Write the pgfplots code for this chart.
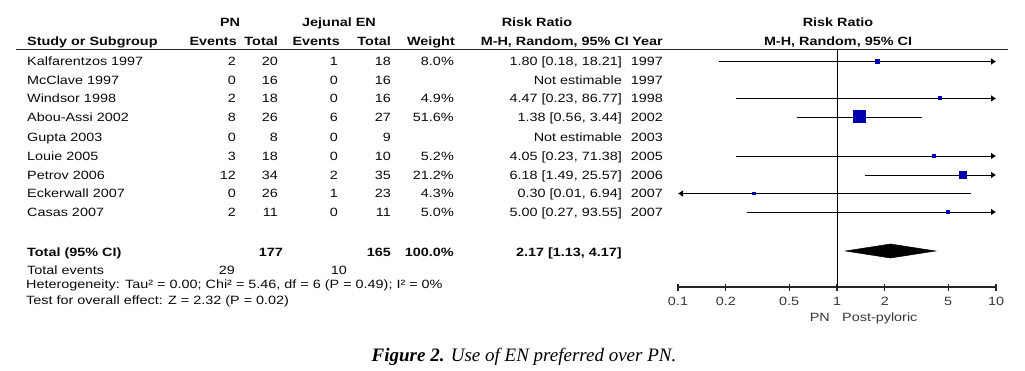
\documentclass[border=0pt]{standalone}
\usepackage{pgfplots}
\pgfplotsset{compat=1.18}
\usepackage{fontspec}
\setmainfont{Liberation Sans}[FakeStretch=1.2]
\newfontfamily\capfont{Liberation Serif}
\usetikzlibrary{arrows.meta}
\definecolor{sq}{RGB}{0,0,170}
\definecolor{txt}{RGB}{10,10,10}
\definecolor{tickgray}{RGB}{55,55,55}
\newcommand\fs{\fontsize{12}{14}\selectfont}
\newcommand\TE[3]{\node[anchor=base east,inner sep=0pt,yshift=-4.3pt,text=txt] at (#1pt,-#2pt) {#3};}
\newcommand\TW[3]{\node[anchor=base west,inner sep=0pt,yshift=-4.3pt,text=txt] at (#1pt,-#2pt) {#3};}
\newcommand\TC[3]{\node[anchor=base,inner sep=0pt,yshift=-4.3pt,text=txt] at (#1pt,-#2pt) {#3};}
\newcommand\row[9]{\TW{27}{#1}{#2}\TE{236}{#1}{#3}\TE{278}{#1}{#4}\TE{338}{#1}{#5}\TE{391}{#1}{#6}\TE{454}{#1}{#7}\TE{622}{#1}{#8}\TE{663}{#1}{#9}}
\begin{document}
\fs
\begin{tikzpicture}[font=\fs]
\useasboundingbox (0,0) rectangle (1025pt,-371pt);
% headers
\TC{230}{22}{\bfseries PN}
\TC{339}{22}{\bfseries Jejunal EN}
\TC{537}{22}{\bfseries Risk Ratio}
\TC{838}{22}{\bfseries Risk Ratio}
\TW{27}{41.5}{\bfseries Study or Subgroup}
\TE{237}{41.5}{\bfseries Events}
\TE{278}{41.5}{\bfseries Total}
\TE{340}{41.5}{\bfseries Events}
\TE{391}{41.5}{\bfseries Total}
\TE{455}{41.5}{\bfseries Weight}
\TE{629}{41.5}{\bfseries M-H, Random, 95\% CI}
\TE{663}{41.5}{\bfseries Year}
\TC{838}{41.5}{\bfseries M-H, Random, 95\% CI}
\draw[line width=1.3pt, black!85] (16pt,-49.5pt) -- (1008pt,-49.5pt);
% rows
\row{61.5}{Kalfarentzos 1997}{2}{20}{1}{18}{8.0\%}{1.80 [0.18, 18.21]}{1997}
\row{80}{McClave 1997}{0}{16}{0}{16}{}{Not estimable}{1997}
\row{98.5}{Windsor 1998}{2}{18}{0}{16}{4.9\%}{4.47 [0.23, 86.77]}{1998}
\row{117}{Abou-Assi 2002}{8}{26}{6}{27}{51.6\%}{1.38 [0.56, 3.44]}{2002}
\row{137}{Gupta 2003}{0}{8}{0}{9}{}{Not estimable}{2003}
\row{156}{Louie 2005}{3}{18}{0}{10}{5.2\%}{4.05 [0.23, 71.38]}{2005}
\row{175}{Petrov 2006}{12}{34}{2}{35}{21.2\%}{6.18 [1.49, 25.57]}{2006}
\row{193.5}{Eckerwall 2007}{0}{26}{1}{23}{4.3\%}{0.30 [0.01, 6.94]}{2007}
\row{212}{Casas 2007}{2}{11}{0}{11}{5.0\%}{5.00 [0.27, 93.55]}{2007}
% totals
\TW{27}{252.5}{\bfseries Total (95\% CI)}
\TE{283}{252.5}{\bfseries 177}
\TE{391}{252.5}{\bfseries 165}
\TE{454}{252.5}{\bfseries 100.0\%}
\TE{622}{252.5}{\bfseries 2.17 [1.13, 4.17]}
\TW{27}{270}{Total events}
\TE{235}{270}{29}
\TE{347}{270}{10}
\TW{26}{284}{Heterogeneity: Tau² = 0.00; Chi² = 5.46, df = 6 (P = 0.49); I² = 0\%}
\TW{26}{300}{Test for overall effect: Z = 2.32 (P = 0.02)}
% forest plot
\begin{axis}[
  at={(678pt,-287pt)}, anchor=south west,
  scale only axis, width=318pt, height=238pt,
  xmode=log, xmin=0.1, xmax=10, ymin=-287, ymax=-49,
  axis x line=bottom, axis y line=none,
  axis line style={-, line width=1.1pt, black!85},
  xtick={0.1,0.2,0.5,1,2,5,10},
  xticklabels={0.1,0.2,0.5,1,2,5,10},
  xminorticks=false,
  tick align=center, major tick length=7pt,
  major tick style={line width=1.1pt, black!85},
  xticklabel style={font=\fs, text=tickgray, anchor=north, inner sep=0pt, yshift=-6.5pt},
  clip=false,
]
\addplot[black, line width=0.9pt] coordinates {(1,-49.5) (1,-287)};
\addplot[black, line width=0.9pt, -{Latex[length=5pt,width=7pt]}] coordinates {(0.18,-61.5) (10,-61.5)};
\addplot[black, line width=0.9pt, -{Latex[length=5pt,width=7pt]}] coordinates {(0.23,-98.5) (10,-98.5)};
\addplot[black, line width=0.9pt] coordinates {(0.56,-117) (3.44,-117)};
\addplot[black, line width=0.9pt, -{Latex[length=5pt,width=7pt]}] coordinates {(0.23,-156) (10,-156)};
\addplot[black, line width=0.9pt, -{Latex[length=5pt,width=7pt]}] coordinates {(1.49,-175) (10,-175)};
\addplot[black, line width=0.9pt, {Latex[length=5pt,width=7pt]}-] coordinates {(0.1,-193.5) (6.94,-193.5)};
\addplot[black, line width=0.9pt, -{Latex[length=5pt,width=7pt]}] coordinates {(0.27,-212) (10,-212)};
\addplot[only marks, mark=square*, mark size=1.7pt, sq, mark options={line width=0pt}] coordinates {(1.80,-61.5)};
\addplot[only marks, mark=square*, mark size=1.5pt, sq, mark options={line width=0pt}] coordinates {(4.47,-98.5)};
\addplot[only marks, mark=square*, mark size=6pt, sq, mark options={line width=0pt}] coordinates {(1.38,-117)};
\addplot[only marks, mark=square*, mark size=1.5pt, sq, mark options={line width=0pt}] coordinates {(4.05,-156)};
\addplot[only marks, mark=square*, mark size=3.4pt, sq, mark options={line width=0pt}] coordinates {(6.18,-175)};
\addplot[only marks, mark=square*, mark size=1.4pt, sq, mark options={line width=0pt}] coordinates {(0.30,-193.5)};
\addplot[only marks, mark=square*, mark size=1.5pt, sq, mark options={line width=0pt}] coordinates {(5.00,-212)};
\addplot[fill=black, draw=black, line width=0.5pt] coordinates {(1.13,-251) (2.17,-244) (4.17,-251) (2.17,-258)} -- cycle;
\end{axis}
\node[anchor=base east, inner sep=0pt, text=tickgray, yshift=-4.3pt] at (830pt,-317pt) {PN};
\node[anchor=base west, inner sep=0pt, text=tickgray, yshift=-4.3pt] at (842pt,-317pt) {Post-pyloric};
\node[anchor=base, inner sep=0pt, font=\capfont\fontsize{19}{22}\selectfont] at (524pt,-361pt) {\textbf{\textit{Figure 2.}} \textit{Use of EN preferred over PN.}};
\end{tikzpicture}
\end{document}
